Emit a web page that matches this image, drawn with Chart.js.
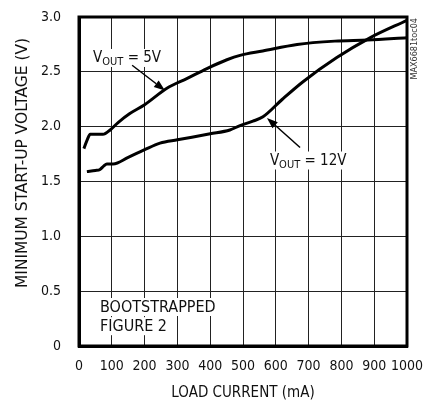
<!DOCTYPE html>
<html><head><meta charset="utf-8">
<script src="https://cdn.jsdelivr.net/npm/chart.js@4"></script>
<style>html,body{margin:0;padding:0;background:#fff}#wrap{width:425px;height:406px}</style>
</head><body><div id="wrap"><canvas id="c" width="425" height="406"></canvas></div>
<script>
const FONT = "'DejaVu Sans Condensed','Liberation Sans Narrow',sans-serif";
// data
const load5 = [15, 25, 34, 50, 73, 95, 120, 155, 200, 268, 330, 390, 451, 491, 560, 665, 780, 880, 1000];
const vout5 = [1.80, 1.88, 1.93, 1.93, 1.93, 1.97, 2.04, 2.12, 2.20, 2.35, 2.44, 2.53, 2.61, 2.65, 2.69, 2.75, 2.78, 2.79, 2.81];
const load12 = [24, 50, 64, 75, 85, 104, 150, 200, 247, 300, 400, 460, 491, 530, 561, 620, 683, 786, 887, 1000];
const vout12 = [1.59, 1.60, 1.61, 1.64, 1.66, 1.66, 1.72, 1.79, 1.85, 1.88, 1.935, 1.97, 2.01, 2.05, 2.09, 2.25, 2.41, 2.63, 2.81, 2.97];
const xTicks = [0,100,200,300,400,500,600,700,800,900,1000];
const yTicks = ['0','0.5','1.0','1.5','2.0','2.5','3.0'];
const xTitle = 'LOAD CURRENT (mA)';
const yTitle = 'MINIMUM START-UP VOLTAGE (V)';
const label5 = {x: 43, y: 2.59, sub: 'OUT', rest: ' = 5V', ax: [162, 2.56], tip: [262, 2.33]};
const label12 = {x: 582, y: 1.655, sub: 'OUT', rest: ' = 12V', ax: [674, 1.81], tip: [573, 2.08]};
const noteLines = ['BOOTSTRAPPED', 'FIGURE 2'];
const notePos = {x: 64, y: [0.31, 0.135]};
const codeText = 'MAX6681toc04';

const pts = (xs, ys) => xs.map((x, i) => ({x, y: ys[i]}));

const annot = {
  id: 'annot',
  afterDraw(chart) {
    const ctx = chart.ctx, xs = chart.scales.x, ys = chart.scales.y, ca = chart.chartArea;
    ctx.save();
    ctx.fillStyle = '#000';
    function vlabel(L) {
      const px = xs.getPixelForValue(L.x), py = ys.getPixelForValue(L.y);
      ctx.font = '15px ' + FONT;
      const wV = ctx.measureText('V').width;
      ctx.font = '11px ' + FONT;
      const wS = ctx.measureText(L.sub).width;
      ctx.font = '15px ' + FONT;
      const wR = ctx.measureText(L.rest).width;
      ctx.fillStyle = '#fff';
      ctx.fillRect(px - 2, py - 13, wV + wS + wR + 4, 18);
      ctx.fillStyle = '#111';
      ctx.textBaseline = 'alphabetic';
      ctx.textAlign = 'left';
      ctx.fillText('V', px, py);
      ctx.font = '11px ' + FONT;
      ctx.fillText(L.sub, px + wV, py + 3);
      ctx.font = '15px ' + FONT;
      ctx.fillText(L.rest, px + wV + wS, py);
      const x0 = xs.getPixelForValue(L.ax[0]), y0 = ys.getPixelForValue(L.ax[1]);
      const x1 = xs.getPixelForValue(L.tip[0]), y1 = ys.getPixelForValue(L.tip[1]);
      const a = Math.atan2(y1 - y0, x1 - x0);
      const len = 11, hw = 4;
      ctx.fillStyle = '#000';
      ctx.strokeStyle = '#000'; ctx.lineWidth = 1.5;
      ctx.beginPath(); ctx.moveTo(x0, y0);
      ctx.lineTo(x1 - Math.cos(a) * len, y1 - Math.sin(a) * len); ctx.stroke();
      ctx.beginPath();
      ctx.moveTo(x1, y1);
      ctx.lineTo(x1 - Math.cos(a) * len - Math.sin(a) * hw, y1 - Math.sin(a) * len + Math.cos(a) * hw);
      ctx.lineTo(x1 - Math.cos(a) * len + Math.sin(a) * hw, y1 - Math.sin(a) * len - Math.cos(a) * hw);
      ctx.closePath(); ctx.fill();
    }
    vlabel(label5); vlabel(label12);
    ctx.font = '16px ' + FONT;
    ctx.textAlign = 'left';
    noteLines.forEach((t, i) => {
      const px = xs.getPixelForValue(notePos.x), py = ys.getPixelForValue(notePos.y[i]);
      const w = ctx.measureText(t).width;
      ctx.fillStyle = '#fff';
      ctx.fillRect(px - 2, py - 14, w + 4, 18);
      ctx.fillStyle = '#111';
      ctx.fillText(t, px, py);
    });
    ctx.save();
    ctx.translate(ca.right + 8, ca.top + 1);
    ctx.rotate(-Math.PI / 2);
    ctx.font = '9px ' + FONT;
    ctx.fillStyle = '#333';
    ctx.textAlign = 'right';
    ctx.textBaseline = 'middle';
    ctx.fillText(codeText, 0, 0);
    ctx.restore();
    ctx.save();
    ctx.translate(23, 163);
    ctx.rotate(-Math.PI / 2);
    ctx.font = '16px ' + FONT;
    const tw = ctx.measureText(yTitle).width;
    ctx.scale(250 / tw, 1);
    ctx.fillStyle = '#111';
    ctx.textAlign = 'center';
    ctx.textBaseline = 'middle';
    ctx.fillText(yTitle, 0, 0);
    ctx.restore();
    ctx.restore();
  }
};

new Chart(document.getElementById('c'), {
  type: 'scatter',
  data: {
    datasets: [
      {label: 'VOUT = 5V', data: pts(load5, vout5), showLine: true, borderColor: '#000', borderWidth: 3, pointRadius: 0, cubicInterpolationMode: 'monotone', fill: false},
      {label: 'VOUT = 12V', data: pts(load12, vout12), showLine: true, borderColor: '#000', borderWidth: 3, pointRadius: 0, cubicInterpolationMode: 'monotone', fill: false}
    ]
  },
  options: {
    responsive: false, animation: false, devicePixelRatio: 1,
    layout: {padding: {top: 17, right: 18, left: 0, bottom: 0}},
    plugins: {legend: {display: false}, tooltip: {enabled: false}},
    scales: {
      x: {
        type: 'linear', min: 0, max: 1000,
        afterBuildTicks: s => { s.ticks = xTicks.map(v => ({value: v})); },
        afterFit: s => { s.height = 60; s.paddingLeft = 0; s.paddingRight = 0; s.paddingTop = 0; s.paddingBottom = 0; },
        ticks: {color: '#111', font: {family: FONT, size: 14}, padding: 12, maxRotation: 0, autoSkip: false, callback: v => String(v)},
        grid: {color: '#222', lineWidth: 1, drawTicks: false},
        border: {color: '#000', width: 3},
        title: {display: true, text: xTitle, color: '#111', font: {family: FONT, size: 15}, padding: {top: 10}}
      },
      y: {
        type: 'linear', min: 0, max: 3,
        afterBuildTicks: s => { s.ticks = yTicks.map(v => ({value: parseFloat(v)})); },
        afterFit: s => { s.width = 79; s.paddingLeft = 0; s.paddingRight = 0; s.paddingTop = 0; s.paddingBottom = 0; },
        ticks: {color: '#111', font: {family: FONT, size: 14}, padding: 18, callback: (v) => yTicks.find(t => parseFloat(t) === v) || ''},
        grid: {color: '#222', lineWidth: 1, drawTicks: false},
        border: {color: '#000', width: 3}
      }
    }
  },
  plugins: [annot, {
    id: 'frame',
    afterDatasetsDraw(chart) {
      const ctx = chart.ctx, ca = chart.chartArea;
      ctx.save(); ctx.strokeStyle = '#000'; ctx.lineWidth = 3;
      ctx.strokeRect(ca.left, ca.top, ca.right - ca.left, ca.bottom - ca.top);
      ctx.restore();
    }
  }]
});
</script></body></html>
